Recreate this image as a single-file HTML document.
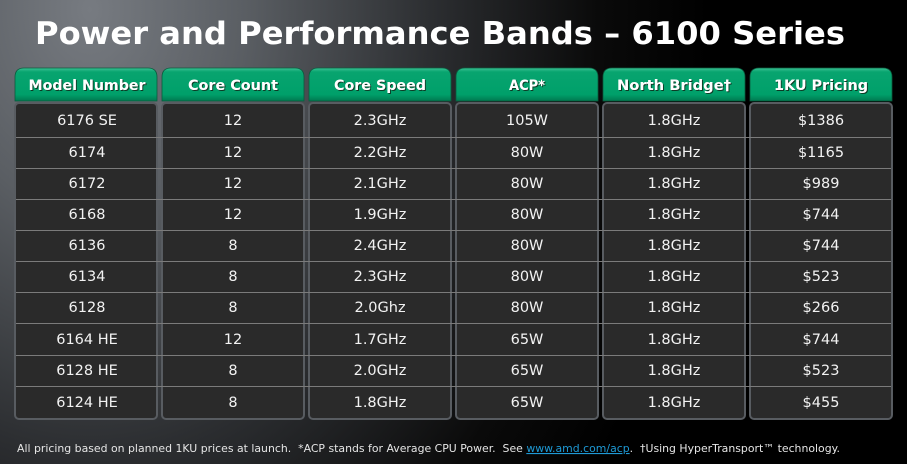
<!DOCTYPE html>
<html><head><meta charset="utf-8">
<style>
html,body{margin:0;padding:0;background:#000;}
svg{display:block;}
</style></head>
<body>
<svg width="907" height="464" viewBox="0 0 907 464" xmlns="http://www.w3.org/2000/svg">
<defs>
<radialGradient id="bg" cx="90" cy="10" r="620" gradientUnits="userSpaceOnUse" gradientTransform="translate(90 10) scale(1 1.3) translate(-90 -10)">
<stop offset="0" stop-color="#777b81"/>
<stop offset="0.25" stop-color="#5a5e63"/>
<stop offset="0.55" stop-color="#2c2e31"/>
<stop offset="0.82" stop-color="#0a0a0a"/>
<stop offset="1" stop-color="#000"/>
</radialGradient>
<linearGradient id="tab" x1="0" y1="0" x2="0" y2="1">
<stop offset="0" stop-color="#3cc294"/>
<stop offset="0.12" stop-color="#08a46f"/>
<stop offset="0.8" stop-color="#00a06a"/>
<stop offset="1" stop-color="#007a50"/>
</linearGradient>
<filter id="sh" x="-5%" y="-20%" width="110%" height="140%">
<feDropShadow dx="1" dy="1" stdDeviation="0.3" flood-color="#0b3a28" flood-opacity="1"/>
</filter>
</defs>
<rect width="907" height="464" fill="url(#bg)"/>

<text x="35" y="44" font-family="'DejaVu Sans','Liberation Sans',sans-serif" font-weight="bold" font-size="31" fill="#fff" textLength="810" lengthAdjust="spacingAndGlyphs">Power and Performance Bands – 6100 Series</text>

<g id="cols">
<g fill="url(#tab)" stroke="#0c5a3e" stroke-width="0.8">
<path d="M15,101 V77 Q15,68 24,68 H148 Q157,68 157,77 V101 Z"/>
<path d="M162,101 V77 Q162,68 171,68 H295 Q304,68 304,77 V101 Z"/>
<path d="M309,101 V77 Q309,68 318,68 H442 Q451,68 451,77 V101 Z"/>
<path d="M456,101 V77 Q456,68 465,68 H589 Q598,68 598,77 V101 Z"/>
<path d="M603,101 V77 Q603,68 612,68 H736 Q745,68 745,77 V101 Z"/>
<path d="M750,101 V77 Q750,68 759,68 H883 Q892,68 892,77 V101 Z"/>
</g>
<g fill="#2a2a2a" stroke="#585c61" stroke-width="2">
<rect x="15" y="103" width="142" height="316" rx="4"/>
<rect x="162" y="103" width="142" height="316" rx="4"/>
<rect x="309" y="103" width="142" height="316" rx="4"/>
<rect x="456" y="103" width="142" height="316" rx="4"/>
<rect x="603" y="103" width="142" height="316" rx="4"/>
<rect x="750" y="103" width="142" height="316" rx="4"/>
</g>
<g stroke="#7b7b7b" stroke-width="1">
<line x1="16" x2="891" y1="137.5" y2="137.5"/>
<line x1="16" x2="891" y1="168.5" y2="168.5"/>
<line x1="16" x2="891" y1="199.5" y2="199.5"/>
<line x1="16" x2="891" y1="230.5" y2="230.5"/>
<line x1="16" x2="891" y1="261.5" y2="261.5"/>
<line x1="16" x2="891" y1="292.5" y2="292.5"/>
<line x1="16" x2="891" y1="323.5" y2="323.5"/>
<line x1="16" x2="891" y1="355.5" y2="355.5"/>
<line x1="16" x2="891" y1="386.5" y2="386.5"/>
</g>
</g>

<g font-family="'DejaVu Sans','Liberation Sans',sans-serif" font-weight="bold" font-size="14" fill="#fff" text-anchor="middle" filter="url(#sh)">
<text x="87" y="90" textLength="117" lengthAdjust="spacingAndGlyphs">Model Number</text>
<text x="233" y="90" textLength="90" lengthAdjust="spacingAndGlyphs">Core Count</text>
<text x="380" y="90" textLength="92" lengthAdjust="spacingAndGlyphs">Core Speed</text>
<text x="527" y="90" textLength="36" lengthAdjust="spacingAndGlyphs">ACP*</text>
<text x="674" y="90" textLength="114" lengthAdjust="spacingAndGlyphs">North Bridge†</text>
<text x="821" y="90" textLength="94" lengthAdjust="spacingAndGlyphs">1KU Pricing</text>
</g>

<g font-family="'DejaVu Sans','Liberation Sans',sans-serif" font-size="14.5" fill="#f2f2f2" text-anchor="middle">
<g transform="translate(87 0)">
<text x="0" y="125">6176 SE</text>
<text x="0" y="157">6174</text>
<text x="0" y="188">6172</text>
<text x="0" y="219">6168</text>
<text x="0" y="250">6136</text>
<text x="0" y="281">6134</text>
<text x="0" y="312">6128</text>
<text x="0" y="344">6164 HE</text>
<text x="0" y="375">6128 HE</text>
<text x="0" y="407">6124 HE</text>
</g>
<g transform="translate(233 0)">
<text x="0" y="125">12</text>
<text x="0" y="157">12</text>
<text x="0" y="188">12</text>
<text x="0" y="219">12</text>
<text x="0" y="250">8</text>
<text x="0" y="281">8</text>
<text x="0" y="312">8</text>
<text x="0" y="344">12</text>
<text x="0" y="375">8</text>
<text x="0" y="407">8</text>
</g>
<g transform="translate(380 0)">
<text x="0" y="125">2.3GHz</text>
<text x="0" y="157">2.2GHz</text>
<text x="0" y="188">2.1GHz</text>
<text x="0" y="219">1.9GHz</text>
<text x="0" y="250">2.4GHz</text>
<text x="0" y="281">2.3GHz</text>
<text x="0" y="312">2.0Ghz</text>
<text x="0" y="344">1.7GHz</text>
<text x="0" y="375">2.0GHz</text>
<text x="0" y="407">1.8GHz</text>
</g>
<g transform="translate(527 0)">
<text x="0" y="125">105W</text>
<text x="0" y="157">80W</text>
<text x="0" y="188">80W</text>
<text x="0" y="219">80W</text>
<text x="0" y="250">80W</text>
<text x="0" y="281">80W</text>
<text x="0" y="312">80W</text>
<text x="0" y="344">65W</text>
<text x="0" y="375">65W</text>
<text x="0" y="407">65W</text>
</g>
<g transform="translate(674 0)">
<text x="0" y="125">1.8GHz</text>
<text x="0" y="157">1.8GHz</text>
<text x="0" y="188">1.8GHz</text>
<text x="0" y="219">1.8GHz</text>
<text x="0" y="250">1.8GHz</text>
<text x="0" y="281">1.8GHz</text>
<text x="0" y="312">1.8GHz</text>
<text x="0" y="344">1.8GHz</text>
<text x="0" y="375">1.8GHz</text>
<text x="0" y="407">1.8GHz</text>
</g>
<g transform="translate(821 0)">
<text x="0" y="125">$1386</text>
<text x="0" y="157">$1165</text>
<text x="0" y="188">$989</text>
<text x="0" y="219">$744</text>
<text x="0" y="250">$744</text>
<text x="0" y="281">$523</text>
<text x="0" y="312">$266</text>
<text x="0" y="344">$744</text>
<text x="0" y="375">$523</text>
<text x="0" y="407">$455</text>
</g>
</g>

<text x="17" y="452" font-family="'DejaVu Sans','Liberation Sans',sans-serif" font-size="11" fill="#e6e6e6" textLength="823" lengthAdjust="spacingAndGlyphs" xml:space="preserve">All pricing based on planned 1KU prices at launch.  *ACP stands for Average CPU Power.  See <tspan fill="#1e9ad6" text-decoration="underline">www.amd.com/acp</tspan>.  †Using HyperTransport™ technology.</text>
</svg>
</body></html>
